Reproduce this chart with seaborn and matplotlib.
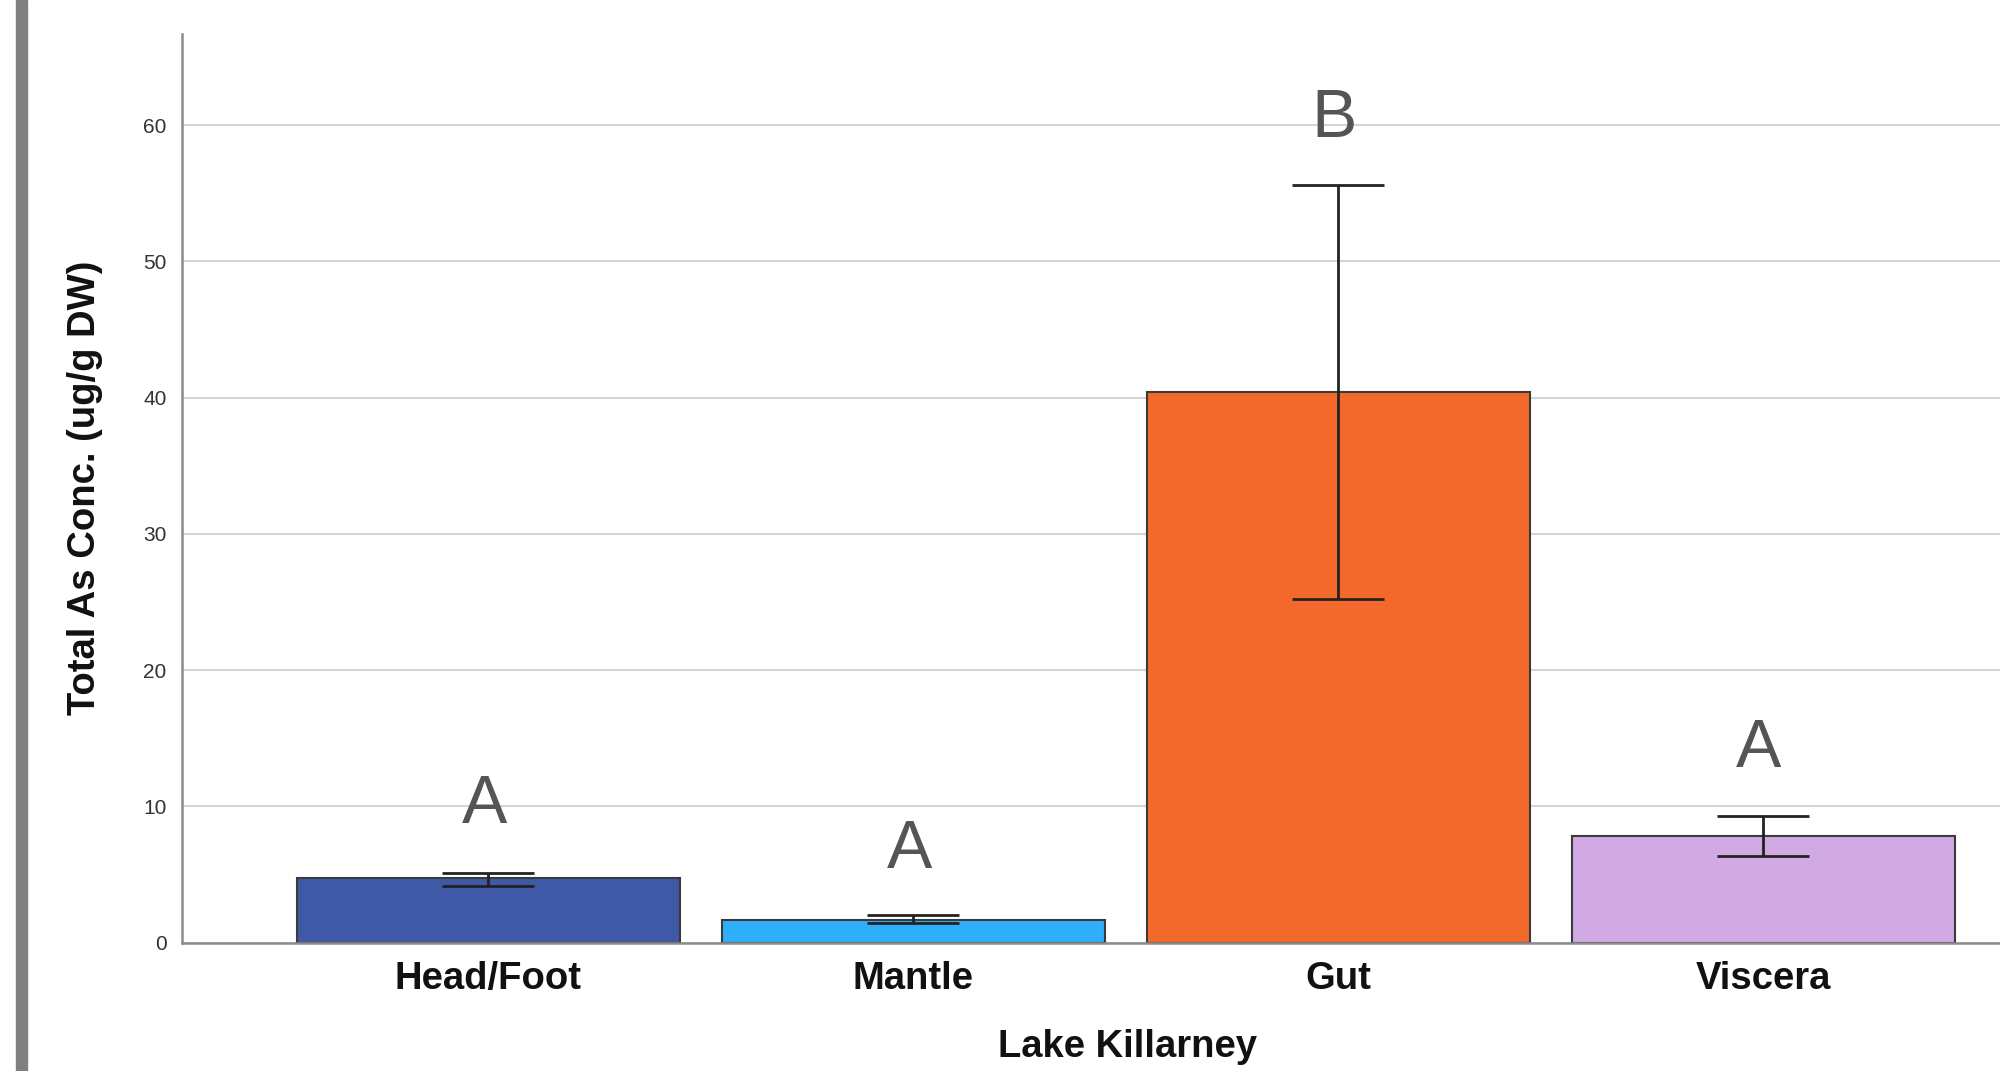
import numpy as np
import pandas as pd
import matplotlib.pyplot as plt
import seaborn as sns
from matplotlib.patches import Rectangle

# valores
tecidos = ["Head/Foot", "Mantle", "Gut", "Viscera"]
medias = [4.72, 1.68, 40.4, 7.85]
erro_inf = [4.16, 1.42, 25.2, 6.38]
erro_sup = [5.13, 2.00, 55.6, 9.29]
letras = ["A", "A", "B", "A"]
altura_letras = [8.8, 5.5, 59.1, 12.9]
cores = ["#3F59A7", "#2FAEF9", "#F2692B", "#D1A9E3"]
yticks = [0, 10, 20, 30, 40, 50, 60]

sns.set_style("white")
plt.rcParams['font.family'] = ['Liberation Sans', 'DejaVu Sans']

df = pd.DataFrame({"tecido": tecidos, "media": medias})

fig = plt.figure(figsize=(20, 10.71), dpi=100)
ax = fig.add_axes([0.091, 0.1199, 0.909, 0.8484])

sns.barplot(data=df, x="tecido", y="media", hue="tecido", palette=cores,
            legend=False, errorbar=None, width=0.9, edgecolor="#3a3a3a",
            linewidth=1.5, saturation=1, ax=ax, zorder=2)

# barras de erro
medias_arr = np.array(medias)
yerr = [medias_arr - np.array(erro_inf), np.array(erro_sup) - medias_arr]
ax.errorbar(np.arange(len(tecidos)), medias_arr, yerr=yerr, fmt='none',
            ecolor='#222222', elinewidth=2, capsize=33, capthick=2, zorder=3)

# letras de significancia
for i, (letra, h) in enumerate(zip(letras, altura_letras)):
    ax.text(i - 0.01, h, letra, ha='center', va='baseline', fontsize=49,
            color='#555555', zorder=4)

ax.set_xlim(-0.721, 3.557)
ax.set_ylim(0, 66.7)
ax.set_yticks(yticks)
ax.set_axisbelow(True)
ax.yaxis.grid(True, color='#d4d4d4', linewidth=1.5)
ax.xaxis.grid(False)

ax.tick_params(axis='y', length=0, labelsize=15, pad=11, labelcolor='#333333')
ax.tick_params(axis='x', length=0, labelsize=27.5, pad=13, labelcolor='#111111')
for lbl in ax.get_xticklabels():
    lbl.set_fontweight('bold')

ax.set_ylabel("Total As Conc. (ug/g DW)", fontsize=27.5, fontweight='bold', color='#111111')
ax.yaxis.set_label_coords(-0.0534, 0.5)
ax.yaxis.label.set_va('center')

ax.set_xlabel("Lake Killarney", fontsize=27.5, fontweight='bold', color='#111111')
ax.xaxis.set_label_coords(0.52, -0.126)
ax.xaxis.label.set_va('baseline')

sns.despine(ax=ax, top=True, right=True)
for lado in ['left', 'bottom']:
    ax.spines[lado].set_color('#8c8c8c')
    ax.spines[lado].set_linewidth(1.8)

# faixa cinza na margem esquerda
fig.add_artist(Rectangle((16 / 2000, 0), 11 / 2000, 1, transform=fig.transFigure,
                         color='#808080', zorder=0))

fig.savefig('out.png', dpi=100)
